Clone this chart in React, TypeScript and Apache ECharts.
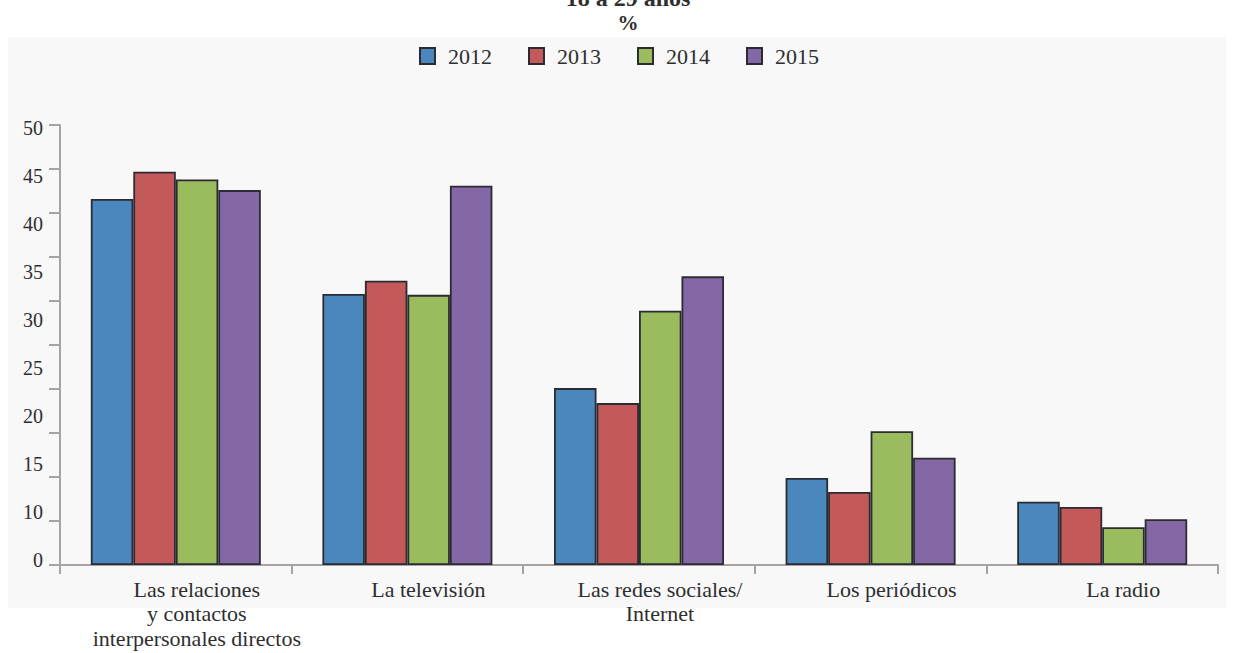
import React, { useEffect, useRef } from "react";
import * as echarts from "echarts";

// Media categories on the x axis
const categories = [
  "Las relaciones\ny contactos\ninterpersonales directos",
  "La televisión",
  "Las redes sociales/\nInternet",
  "Los periódicos",
  "La radio",
];

// Share (%) per year
const years = ["2012", "2013", "2014", "2015"];
const values2012 = [41.6, 30.8, 20.1, 9.9, 7.2];
const values2013 = [44.7, 32.3, 18.4, 8.3, 6.6];
const values2014 = [43.8, 30.7, 28.9, 15.2, 4.3];
const values2015 = [42.6, 43.1, 32.8, 12.2, 5.2];

// Tick labels printed along the value axis
const yTickLabels = ["0", "10", "15", "20", "25", "30", "35", "40", "45", "50"];

const colors = ["#4a87bd", "#c4595a", "#9bbb5f", "#8468a6"];
const FONT = "Liberation Serif";
const AXIS_GREY = "#a8a3a3";
const TEXT = "#2e2e2e";

export default function App() {
  const ref = useRef<HTMLDivElement>(null);

  useEffect(() => {
    if (!ref.current) return;
    const chart = echarts.init(ref.current, undefined, { renderer: "svg" });
    const seriesData = [values2012, values2013, values2014, values2015];

    chart.setOption({
      animation: false,
      backgroundColor: "#ffffff",
      textStyle: { fontFamily: FONT },
      graphic: [
        {
          type: "rect",
          z: -100,
          silent: true,
          shape: { x: 8, y: 37, width: 1218, height: 571 },
          style: { fill: "#f8f8f8" },
        },
        {
          type: "text",
          x: 628,
          y: 10,
          style: {
            text: "18 a 29 años",
            font: `bold 24px "${FONT}"`,
            fill: TEXT,
            textAlign: "center",
            textVerticalAlign: "bottom",
          },
        },
        {
          type: "text",
          x: 628,
          y: 33,
          style: {
            text: "%",
            font: `bold 21px "${FONT}"`,
            fill: TEXT,
            textAlign: "center",
            textVerticalAlign: "bottom",
          },
        },
      ],
      legend: {
        left: 419,
        top: 45,
        padding: 0,
        itemWidth: 15,
        itemHeight: 16,
        itemGap: 36,
        icon: "rect",
        textStyle: {
          fontFamily: FONT,
          fontSize: 22,
          color: TEXT,
          padding: [0, 0, 0, 8],
        },
        data: years,
      },
      grid: [
        { left: 60, right: 16, top: 125, bottom: 88 },
        { left: 60, right: 16, top: 128, bottom: 93 },
      ],
      xAxis: [
        {
          type: "category",
          gridIndex: 0,
          data: categories,
          axisLine: { show: true, lineStyle: { color: AXIS_GREY, width: 2 } },
          axisTick: {
            show: true,
            length: 9,
            lineStyle: { color: AXIS_GREY, width: 2 },
          },
          axisLabel: {
            fontFamily: FONT,
            fontSize: 22,
            color: TEXT,
            margin: 12,
            lineHeight: 24.5,
            padding: [0, 0, 0, 42],
            interval: 0,
          },
        },
        { type: "category", gridIndex: 1, show: false, data: categories },
      ],
      yAxis: [
        {
          type: "value",
          gridIndex: 0,
          min: 0,
          max: 50,
          interval: 5,
          axisLine: { show: true, lineStyle: { color: AXIS_GREY, width: 2 } },
          axisTick: {
            show: true,
            length: 11,
            lineStyle: { color: AXIS_GREY, width: 2 },
          },
          axisLabel: { show: false },
          splitLine: { show: false },
        },
        {
          type: "category",
          gridIndex: 1,
          data: yTickLabels,
          boundaryGap: false,
          axisLine: { show: false },
          axisTick: { show: false },
          splitLine: { show: false },
          axisLabel: {
            fontFamily: FONT,
            fontSize: 20,
            color: TEXT,
            margin: 17,
            interval: 0,
          },
        },
      ],
      series: years.map((y, i) => ({
        name: y,
        type: "bar",
        xAxisIndex: 0,
        yAxisIndex: 0,
        data: seriesData[i],
        barGap: "0%",
        barCategoryGap: "26.6%",
        itemStyle: {
          color: colors[i],
          borderColor: "#2b2b33",
          borderWidth: 1.8,
        },
      })),
    });

    return () => chart.dispose();
  }, []);

  return (
    <div
      ref={ref}
      style={{ position: "absolute", left: 0, top: 0, width: 1234, height: 653 }}
    />
  );
}
